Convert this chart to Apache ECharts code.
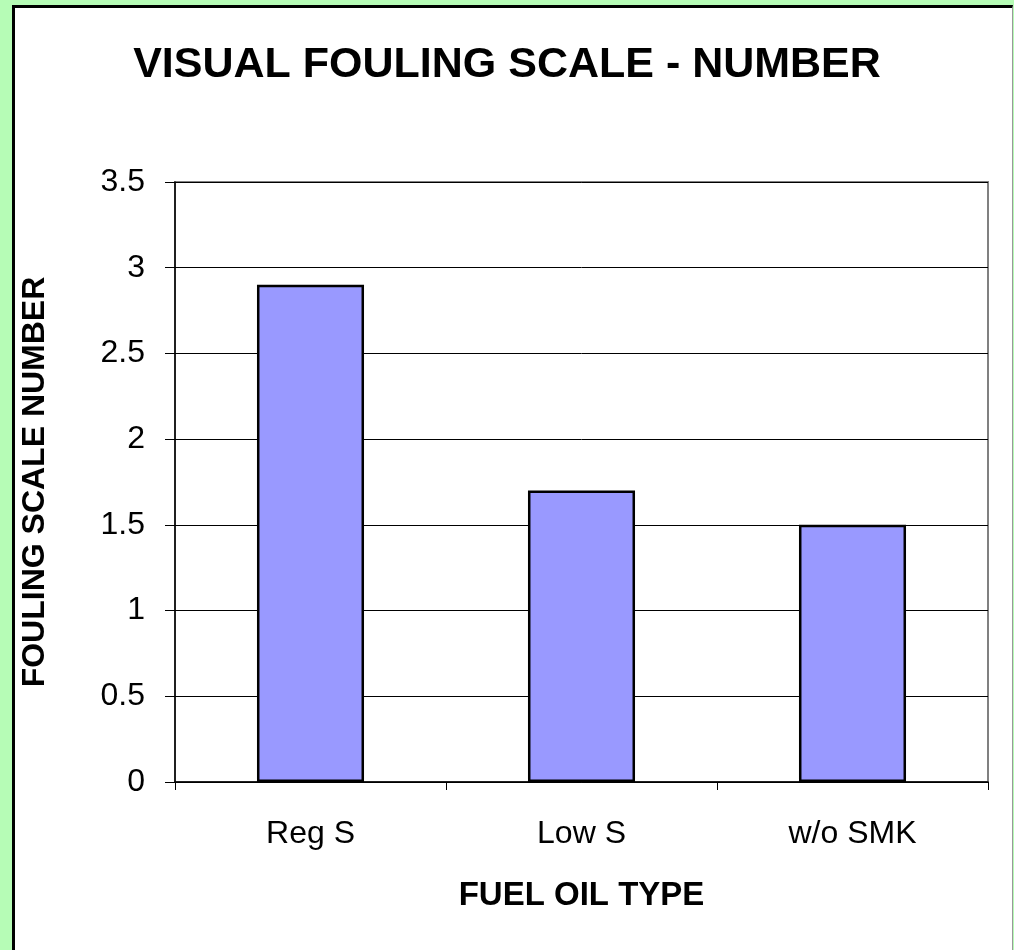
<!DOCTYPE html>
<html>
<head>
<meta charset="utf-8">
<script src="https://cdn.jsdelivr.net/npm/echarts@6/dist/echarts.min.js"></script>
<style>
  html, body { margin: 0; padding: 0; }
  body { width: 1014px; height: 950px; background: #b6fcb6; position: relative; overflow: hidden; }
  #frame {
    position: absolute; left: 12px; top: 5px; width: 1001px; height: 945px;
    box-sizing: border-box; background: #fff;
    border-left: 3px solid #000; border-top: 3px solid #000; border-right: 1px solid #999;
  }
  #foulingChart { position: absolute; left: 0; top: 0; width: 1014px; height: 950px; }
</style>
</head>
<body>
<div id="frame"></div>
<div id="foulingChart"></div>
<script>
const categories = ['Reg S', 'Low S', 'w/o SMK']
const foulingValues = [2.9, 1.7, 1.5]

const font = "'Liberation Sans', Arial, sans-serif"
const chart = echarts.init(document.getElementById('foulingChart'))

const option = {
  backgroundColor: 'transparent',
  animation: false,
  title: {
    text: 'VISUAL FOULING SCALE - NUMBER',
    left: 'center',
    top: 39,
    textStyle: {
      fontFamily: font,
      fontSize: 43,
      fontWeight: 'bold',
      color: '#000',
    },
  },
  grid: {
    left: 175,
    top: 182,
    right: 26,
    bottom: 168,
    show: true,
    borderColor: '#808080',
    borderWidth: 2,
  },
  xAxis: {
    type: 'category',
    data: categories,
    name: 'FUEL OIL TYPE',
    nameLocation: 'middle',
    nameGap: 97,
    nameTextStyle: {
      fontFamily: font,
      fontSize: 33,
      fontWeight: 'bold',
      color: '#000',
    },
    axisLine: { show: true, lineStyle: { color: '#000', width: 1.5 } },
    axisTick: { show: true, length: 8, inside: false, lineStyle: { color: '#000' } },
    axisLabel: {
      fontFamily: font,
      fontSize: 32,
      color: '#000',
      margin: 36,
    },
  },
  yAxis: {
    type: 'value',
    min: 0,
    max: 3.5,
    interval: 0.5,
    name: 'FOULING SCALE NUMBER',
    nameLocation: 'middle',
    nameRotate: 90,
    nameGap: 124,
    nameTextStyle: {
      fontFamily: font,
      fontSize: 32,
      fontWeight: 'bold',
      color: '#000',
    },
    axisLine: { show: true, lineStyle: { color: '#000', width: 1.5 } },
    axisTick: { show: true, length: 10, inside: false, lineStyle: { color: '#000' } },
    axisLabel: {
      fontFamily: font,
      fontSize: 32,
      color: '#000',
      margin: 30,
    },
    splitLine: { show: true, lineStyle: { color: '#000', width: 1 } },
  },
  series: [
    {
      type: 'bar',
      data: foulingValues,
      barWidth: '39.5%',
      itemStyle: {
        color: '#9999ff',
        borderColor: '#000',
        borderWidth: 2.5,
      },
    },
  ],
}

chart.setOption(option)
</script>
</body>
</html>
